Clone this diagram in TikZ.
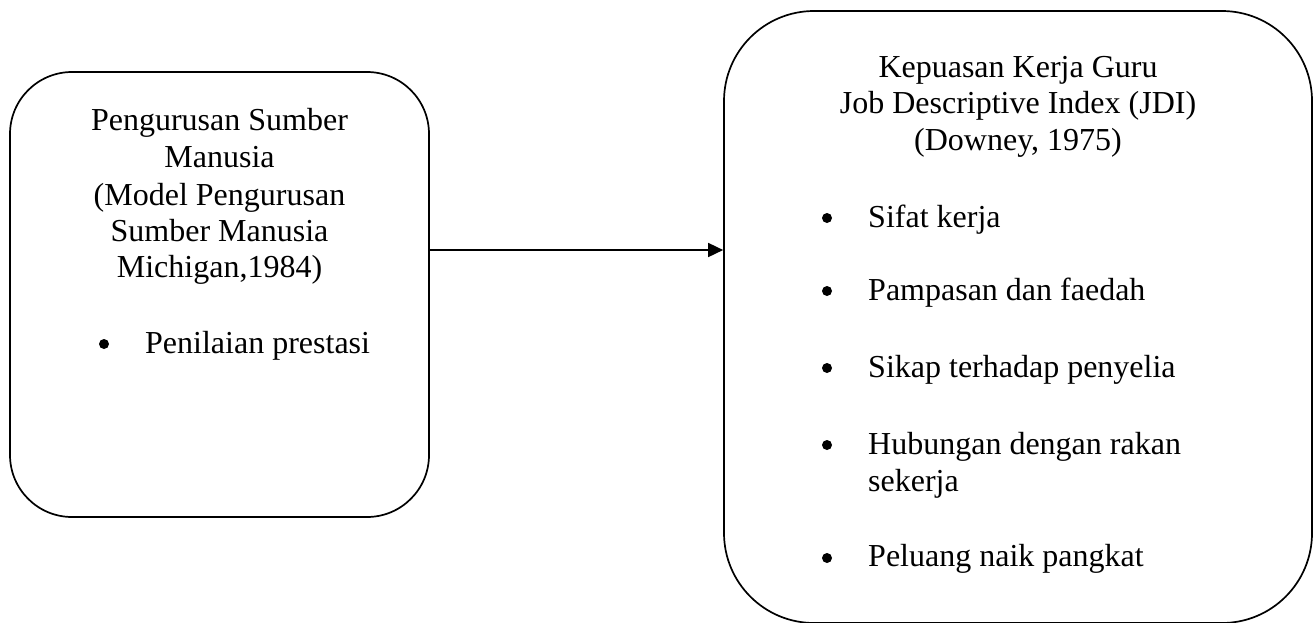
\documentclass[tikz,border=0pt]{standalone}
\usepackage{fontspec}
\setmainfont{Liberation Serif}
\usetikzlibrary{arrows.meta}
\tikzset{
  box/.style={draw, line width=1.7pt, rectangle, inner sep=0pt},
  txt/.style={inner sep=0pt, anchor=base, font=\fontsize{32}{37}\selectfont},
  item/.style={inner sep=0pt, anchor=base west, font=\fontsize{32}{37}\selectfont},
  bul/.style={circle, fill=black, inner sep=0pt, minimum size=10pt},
  conn/.style={line width=1.7pt, -{Triangle[length=15pt,width=14pt]}}
}
\begin{document}
\begin{tikzpicture}[x=1pt,y=-1pt]
\useasboundingbox (0,0) rectangle (1313,622);
% boxes
\node[box, rounded corners=62pt, minimum width=419pt, minimum height=445pt] (L) at (219.5,294.5) {};
\node[box, rounded corners=90pt, minimum width=588pt, minimum height=612pt] (R) at (1018,317) {};
% left text
\node[txt] (l1) at (219.5,130) {Pengurusan Sumber};
\node[txt] (l2) at (219.5,167) {Manusia};
\node[txt] (l3) at (219.5,205) {(Model Pengurusan};
\node[txt] (l4) at (219.5,241) {Sumber Manusia};
\node[txt] (l5) at (219.5,277) {Michigan,1984)};
\node[bul] (lb1) at (104,344) {};
\node[item] (li1) at (145,353) {Penilaian prestasi};
% right text
\node[txt] (r1) at (1018,77) {Kepuasan Kerja Guru};
\node[txt] (r2) at (1018,113) {Job Descriptive Index (JDI)};
\node[txt] (r3) at (1018,150) {(Downey, 1975)};
\node[bul] (rb1) at (827,218) {};
\node[item] (ri1) at (868,227) {Sifat kerja};
\node[bul] (rb2) at (827,291) {};
\node[item] (ri2) at (868,300) {Pampasan dan faedah};
\node[bul] (rb3) at (827,368) {};
\node[item] (ri3) at (868,377) {Sikap terhadap penyelia};
\node[bul] (rb4) at (827,445) {};
\node[item] (ri4) at (868,454) {Hubungan dengan rakan};
\node[item] (ri4b) at (868,491) {sekerja};
\node[bul] (rb5) at (827,558) {};
\node[item] (ri5) at (868,566) {Peluang naik pangkat};
% connector
\coordinate (ay) at (0,250);
\draw[conn] (L.east |- ay) -- (R.west |- ay);
\end{tikzpicture}
\end{document}
